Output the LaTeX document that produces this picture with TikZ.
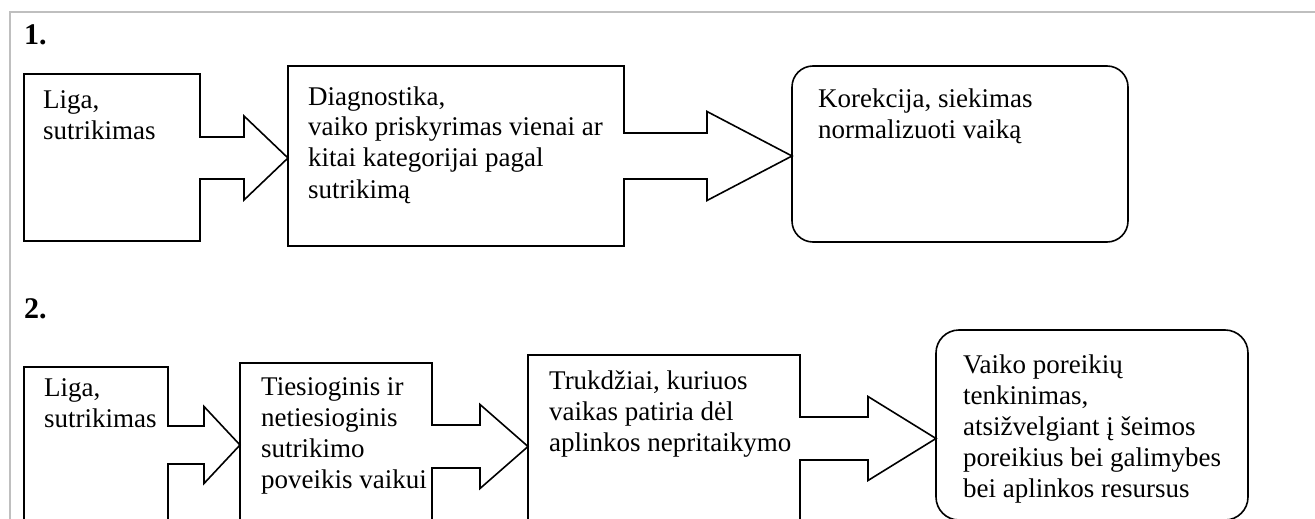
\documentclass[tikz,border=0pt]{standalone}
\usepackage{fontspec}
\setmainfont{Liberation Serif}
\usetikzlibrary{calc}

% lines of a box text, baseline on the first line
\newcommand{\boxlines}[1]{\begin{tabular}[t]{@{}l@{}}#1\end{tabular}}

% block arrow from the right side of #1 to the left side of #2
% #3 axis y, #4 half shaft, #5 half head, #6 head length
\newcommand{\blockarrow}[6]{%
  \fill[white] ($(#1.east |- 0,#3)+(-2,-#4)$) rectangle ($(#1.east |- 0,#3)+(2,#4)$);
  \draw[blockline] ($(#1.east |- 0,#3)+(0,-#4)$)
    -- ($(#2.west |- 0,#3)+(-#6,-#4)$)
    -- ($(#2.west |- 0,#3)+(-#6,-#5)$)
    -- (#2.west |- 0,#3)
    -- ($(#2.west |- 0,#3)+(-#6,#5)$)
    -- ($(#2.west |- 0,#3)+(-#6,#4)$)
    -- ($(#1.east |- 0,#3)+(0,#4)$);
}

\begin{document}
\begin{tikzpicture}[
        x=1pt, y=-1pt,
        box/.style={draw, line width=1.6pt, anchor=north west, outer sep=0pt, inner sep=0pt},
        roundbox/.style={box, rounded corners=21pt},
        blockline/.style={line width=1.6pt, line join=miter, line cap=rect},
        txt/.style={anchor=base west, inner sep=0pt,
            font=\fontsize{27}{31}\selectfont},
        heading/.style={anchor=base west, inner sep=0pt,
            font=\fontsize{30}{34}\selectfont\bfseries},
        frame/.style={draw=black!25, line width=2pt}
    ]
        \useasboundingbox (0,0) rectangle (1315,519);
        \clip (0,0) rectangle (1315,519);
        \draw[frame] (10,12) rectangle (1340,560);

        % first model
        \node[heading] (one) at (24,45) {1.};
        \node[box, minimum width=176pt, minimum height=167pt] (liga1) at (24,74) {};
        \node[box, minimum width=336pt, minimum height=180pt] (diag) at (288,66) {};
        \node[roundbox, minimum width=336pt, minimum height=176pt] (korek) at (792,66) {};

        \node[txt] (liga1txt) at ([shift={(19,34)}]liga1.north west) {\boxlines{Liga,\\sutrikimas}};
        \node[txt] (diagtxt) at ([shift={(20,39)}]diag.north west)
            {\boxlines{Diagnostika,\\vaiko priskyrimas vienai ar\\kitai kategorijai pagal\\sutrikimą}};
        \node[txt] (korektxt) at ([shift={(26,41)}]korek.north west)
            {\boxlines{Korekcija, siekimas\\normalizuoti vaiką}};

        \blockarrow{liga1}{diag}{158}{21}{42}{44}
        \blockarrow{diag}{korek}{156}{23}{44.5}{85}

        % second model
        \node[heading] (two) at (24,318) {2.};
        \node[box, minimum width=144pt, minimum height=200pt] (liga2) at (24,367) {};
        \node[box, minimum width=192pt, minimum height=200pt] (poveik) at (240,363) {};
        \node[box, minimum width=272pt, minimum height=200pt] (trukd) at (528,355) {};
        \node[roundbox, rounded corners=23pt, minimum width=312pt, minimum height=190pt] (poreik) at (936,330) {};

        \node[txt] (liga2txt) at ([shift={(20,29)}]liga2.north west) {\boxlines{Liga,\\sutrikimas}};
        \node[txt] (poveiktxt) at ([shift={(21,32)}]poveik.north west)
            {\boxlines{Tiesioginis ir\\netiesioginis\\sutrikimo\\poveikis vaikui}};
        \node[txt] (trukdtxt) at ([shift={(21,34)}]trukd.north west)
            {\boxlines{Trukdžiai, kuriuos\\vaikas patiria dėl\\aplinkos nepritaikymo}};
        \node[txt] (poreiktxt) at ([shift={(27,43)}]poreik.north west)
            {\boxlines{Vaiko poreikių\\tenkinimas,\\atsižvelgiant į šeimos\\poreikius bei galimybes\\bei aplinkos resursus}};

        \blockarrow{liga2}{poveik}{445}{19}{38.5}{36}
        \blockarrow{poveik}{trukd}{446.5}{21.5}{42}{48}
        \blockarrow{trukd}{poreik}{438.5}{21.5}{42}{68}
    \end{tikzpicture}
\end{document}
